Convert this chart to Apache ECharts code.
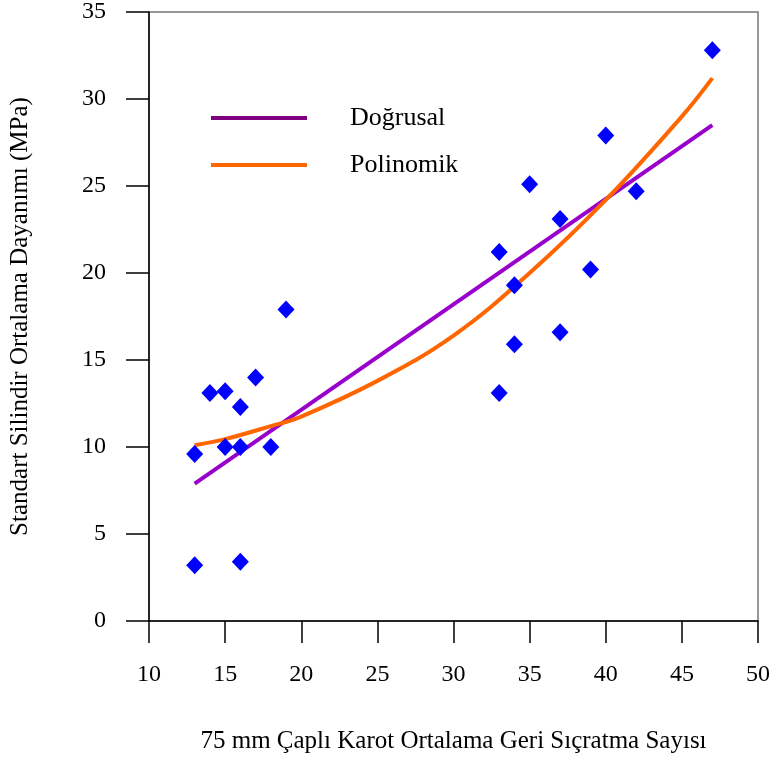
<!DOCTYPE html>
<html>
<head>
<meta charset="utf-8">
<script src="https://cdn.jsdelivr.net/npm/echarts@6/dist/echarts.min.js"></script>
<style>html,body{margin:0;padding:0;background:#fff}#c{width:773px;height:763px}</style>
</head>
<body>
<div id="c"></div>
<script>
// Measured data (scatter)
const pointX = [13, 13, 14, 15, 15, 16, 16, 16, 17, 18, 19, 33, 33, 34, 34, 35, 37, 37, 39, 40, 42, 47];
const pointY = [3.2, 9.6, 13.1, 13.2, 10.0, 12.3, 10.0, 3.4, 14.0, 10.0, 17.9, 21.2, 13.1, 19.3, 15.9, 25.1, 23.1, 16.6, 20.2, 27.9, 24.7, 32.8];
// Linear trend line (read endpoints)
const linearX = [13, 47];
const linearY = [7.9, 28.5];
// Polynomial trend line (read at several x)
const polyX = [13, 15, 18, 20, 25, 30, 35, 40, 45, 47];
const polyY = [10.1, 10.45, 11.2, 11.75, 13.8, 16.4, 20.0, 24.2, 29.0, 31.2];
const seriesNames = ['Doğrusal', 'Polinomik'];
const xTitle = '75 mm Çaplı Karot Ortalama Geri Sıçratma Sayısı';
const yTitle = 'Standart Silindir Ortalama Dayanımı (MPa)';

const zip = (a, b) => a.map((v, i) => [v, b[i]]);
const font = '"Liberation Serif", "Times New Roman", serif';

const chart = echarts.init(document.getElementById('c'), null, {renderer: 'canvas'});
chart.setOption({
  animation: false,
  backgroundColor: '#fff',
  textStyle: {fontFamily: font, color: '#000'},
  grid: {left: 149, right: 15, top: 10, bottom: 142, show: true, borderColor: '#777', borderWidth: 1.5, backgroundColor: 'transparent'},
  legend: {
    orient: 'vertical', left: 206, top: 100, itemGap: 21,
    icon: 'rect', itemWidth: 96, itemHeight: 4,
    textStyle: {fontFamily: font, fontSize: 26, color: '#000', padding: [0, 0, 0, 38], lineHeight: 24},
    data: [
      {name: seriesNames[0], itemStyle: {color: '#800080'}},
      {name: seriesNames[1], itemStyle: {color: '#FF6600'}}
    ]
  },
  xAxis: {
    type: 'value', min: 10, max: 50, interval: 5,
    name: xTitle, nameLocation: 'middle', nameGap: 108,
    nameTextStyle: {fontFamily: font, fontSize: 25, color: '#000'},
    axisLine: {show: true, onZero: false, lineStyle: {color: '#000', width: 1.5}},
    axisTick: {show: true, length: 22, lineStyle: {color: '#000', width: 1.5}},
    axisLabel: {fontFamily: font, fontSize: 24, color: '#000', margin: 42},
    splitLine: {show: false}
  },
  yAxis: {
    type: 'value', min: 0, max: 35, interval: 5,
    name: yTitle, nameLocation: 'middle', nameGap: 116, nameRotate: 90,
    nameTextStyle: {fontFamily: font, fontSize: 25, color: '#000'},
    axisLine: {show: true, onZero: false, lineStyle: {color: '#000', width: 1.5}},
    axisTick: {show: true, length: 23, lineStyle: {color: '#000', width: 1.5}},
    axisLabel: {fontFamily: font, fontSize: 24, color: '#000', margin: 43},
    splitLine: {show: false}
  },
  series: [
    {
      name: seriesNames[0], type: 'line', data: zip(linearX, linearY),
      showSymbol: false, symbol: 'none', z: 3,
      lineStyle: {color: '#9900CC', width: 4, cap: 'butt'},
      itemStyle: {color: '#800080'}
    },
    {
      name: seriesNames[1], type: 'line', data: zip(polyX, polyY),
      showSymbol: false, symbol: 'none', smooth: 0.4, z: 3,
      lineStyle: {color: '#FF6600', width: 4, cap: 'butt'},
      itemStyle: {color: '#FF6600'}
    },
    {
      name: 'data', type: 'scatter', data: zip(pointX, pointY),
      symbol: 'diamond', symbolSize: [17, 18], z: 4,
      itemStyle: {color: '#0000FF', opacity: 1}
    }
  ]
});
</script>
</body>
</html>
